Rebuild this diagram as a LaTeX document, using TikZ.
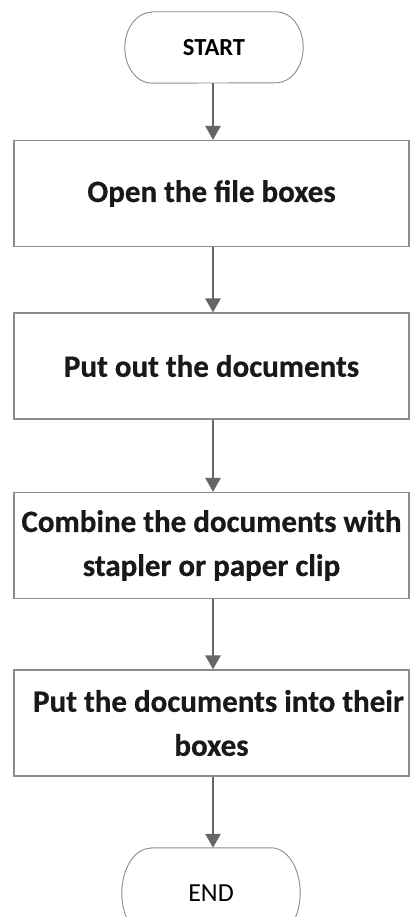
\documentclass[tikz,border=0pt]{standalone}
\usepackage{fontspec}
\setmainfont{Carlito}
\usetikzlibrary{arrows.meta}
\definecolor{edgegray}{HTML}{8C8C8C}
\definecolor{arrowgray}{HTML}{666666}
\tikzset{
  terminal/.style={minimum width=178pt, minimum height=71pt, inner sep=0pt,
    font=\fontsize{26}{30}\selectfont, text=black},
  outline/.style={draw=edgegray, line width=0.9pt},
  stepbox/.style={draw=edgegray, line width=1.1pt, fill=white,
    minimum width=395pt, minimum height=106pt, inner sep=0pt,
    align=center, font=\fontsize{31}{44}\selectfont\bfseries\addfontfeature{FakeBold=0.6},
    text=black!90},
  flow/.style={draw=arrowgray, line width=2.6pt,
    -{Triangle[length=14pt, width=15pt]}}
}
\begin{document}
\begin{tikzpicture}[x=1pt, y=-1pt]
  \useasboundingbox (0,0) rectangle (412,917);
  \fill[white] (0,0) rectangle (412,917);

  % start and end terminals (text nodes, outlines with elliptic ends below)
  \node[terminal, font=\fontsize{24.5}{29}\selectfont\bfseries] (start) at (214,47.5) {START};
  \node[terminal, minimum height=90pt] (end) at (211,893) {END};

  \draw[outline] ([xshift=27pt]start.north west) -- ([xshift=-27pt]start.north east)
    arc[start angle=90, end angle=-90, x radius=27pt, y radius=35.5pt]
    -- ([xshift=27pt]start.south west)
    arc[start angle=270, end angle=90, x radius=27pt, y radius=35.5pt] -- cycle;
  \draw[outline] ([xshift=29pt]end.north west) -- ([xshift=-29pt]end.north east)
    arc[start angle=90, end angle=-90, x radius=29pt, y radius=45pt]
    -- ([xshift=29pt]end.south west)
    arc[start angle=270, end angle=90, x radius=29pt, y radius=45pt] -- cycle;

  % process steps
  \node[stepbox] (s1) at (211.5,193.5) {Open the file boxes};
  \node[stepbox] (s2) at (211.5,366) {Put out the documents};
  \node[stepbox] (s3) at (211.5,545.5)
    {Combine the documents with\\stapler or paper clip};
  \node[stepbox] (s4) at (211.5,723)
    {\hspace*{14pt}Put the documents into their\\boxes};

  % connectors
  \draw[flow] (start.south -| 213,0) -- (s1.north -| 213,0);
  \draw[flow] (s1.south -| 213,0) -- (s2.north -| 213,0);
  \draw[flow] (s2.south -| 213,0) -- (s3.north -| 213,0);
  \draw[flow] (s3.south -| 213,0) -- (s4.north -| 213,0);
  \draw[flow] (s4.south -| 213,0) -- (end.north -| 213,0);
\end{tikzpicture}
\end{document}
